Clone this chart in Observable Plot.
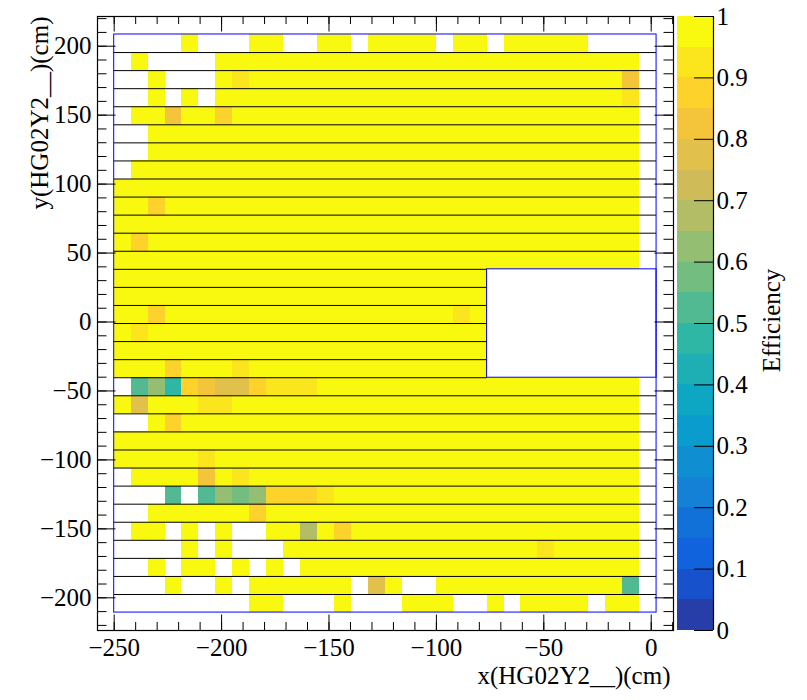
<!DOCTYPE html>
<html>
<head>
<meta charset="utf-8">
<script src="https://cdn.jsdelivr.net/npm/d3@7"></script>
<script src="https://cdn.jsdelivr.net/npm/@observablehq/plot@0.6"></script>
<style>
  html, body { margin: 0; padding: 0; background: #fff; }
  #chart { position: relative; width: 807px; height: 700px; font-family: "Liberation Serif", "Times New Roman", serif; }
  #chart svg { position: absolute; top: 0; }
</style>
</head>
<body>
<div id="chart"></div>
<script>
// ---- Histogram binning (cm) ----
const xFirstEdge = -250, xLastEdge = 2.5, nCols = 32;
const yTopEdge = 208.5, yBottomEdge = -210.7, nRows = 32;
// Beam hole: columns [22, 32) x rows [13, 19) carry no strips
const holeCols = [22, 32];
const holeRows = [13, 19];

// Occupied cells per strip row (top row first); '#' = measured, '.' = empty.
// Spaces only group the 32 columns by eight.
const rowMaps = [
  "....#... ##..##.# ###.##.# ####....",
  ".#....## ######## ######## #######.",
  "..#...## ######## ######## #######.",
  "..#.#.## ######## ######## #######.",
  ".####### ######## ######## #######.",
  "..###### ######## ######## #######.",
  "..###### ######## ######## #######.",
  ".####### ######## ######## #######.",
  "######## ######## ######## #######.",
  "######## ######## ######## #######.",
  "######## ######## ######## #######.",
  "######## ######## ######## #######.",
  "######## ######## ######## #######.",
  "######## ######## ######.. ........",
  "######## ######## ######.. ........",
  "######## ######## ######.. ........",
  "######## ######## ######.. ........",
  "######## ######## ######.. ........",
  "######## ######## ######.. ........",
  ".####### ######## ######## #######.",
  "######## ######## ######## #######.",
  "..###### ######## ######## #######.",
  "######## ######## ######## #######.",
  "######## ######## ######## #######.",
  ".####### ######## ######## #######.",
  "...#.### ######## ######## #######.",
  "..###### ######## ######## #######.",
  ".##.#.#. .####### ######## #######.",
  "....#.#. ..###### ######## #######.",
  "..#.##.# .#.##### ######## #######.",
  "...#..#. ######.# #..##### #######.",
  "........ ##...#.. .###..#. ####.##."
];

// Efficiency of a fully efficient cell
const fullEfficiency = 0.99;

// Cells below full efficiency: [row, column, efficiency]
const lowCells = [
  [2, 7, 0.91], [2, 30, 0.83],
  [3, 30, 0.93],
  [4, 3, 0.83], [4, 6, 0.88],
  [9, 2, 0.88],
  [11, 1, 0.88],
  [15, 2, 0.88], [15, 20, 0.93],
  [16, 1, 0.93],
  [18, 3, 0.88], [18, 7, 0.93],
  [19, 1, 0.53], [19, 2, 0.63], [19, 3, 0.48], [19, 4, 0.88], [19, 5, 0.83],
  [19, 6, 0.78], [19, 7, 0.78], [19, 8, 0.88], [19, 9, 0.93], [19, 10, 0.93], [19, 11, 0.93],
  [20, 1, 0.78], [20, 5, 0.93], [20, 6, 0.93],
  [21, 3, 0.88],
  [23, 5, 0.93],
  [24, 5, 0.83], [24, 7, 0.93],
  [25, 3, 0.53], [25, 5, 0.53], [25, 6, 0.63], [25, 7, 0.58], [25, 8, 0.63],
  [25, 9, 0.88], [25, 10, 0.88], [25, 11, 0.88], [25, 12, 0.93],
  [26, 8, 0.88],
  [27, 11, 0.68], [27, 13, 0.88],
  [28, 25, 0.93],
  [30, 15, 0.77], [30, 30, 0.53]
];

// Axis ticks and labels
const xMajorTicks = [-250, -200, -150, -100, -50, 0];
const yMajorTicks = [-200, -150, -100, -50, 0, 50, 100, 150, 200];
const zTicks = [0, 0.1, 0.2, 0.3, 0.4, 0.5, 0.6, 0.7, 0.8, 0.9, 1];
const xTitle = "x(HG02Y2__)(cm)";
const yTitle = "y(HG02Y2__)(cm)";
const zTitle = "Efficiency";

// ---- ROOT "bird" palette, 20 contour levels ----
const birdStops = [0, 0.125, 0.25, 0.375, 0.5, 0.625, 0.75, 0.875, 1];
const birdR = [0.2082, 0.0592, 0.0780, 0.0232, 0.1802, 0.5301, 0.8186, 0.9956, 0.9764];
const birdG = [0.1664, 0.3599, 0.5041, 0.6419, 0.7178, 0.7492, 0.7328, 0.7862, 0.9832];
const birdB = [0.5293, 0.8684, 0.8385, 0.7914, 0.6425, 0.4662, 0.3499, 0.1968, 0.0539];
function bird(t) {
  let i = 0;
  while (i < birdStops.length - 2 && t > birdStops[i + 1]) i++;
  const f = (t - birdStops[i]) / (birdStops[i + 1] - birdStops[i]);
  const c = (a) => Math.round(255 * (a[i] + f * (a[i + 1] - a[i])));
  return d3.rgb(c(birdR), c(birdG), c(birdB)).formatHex();
}
const nLevels = 20;
const levelThresholds = d3.range(1, nLevels).map((i) => i / nLevels);
const levelColors = d3.range(nLevels).map((i) => bird(Math.floor((i + 0.99) * 255 / nLevels) / 255));
const colorScale = { type: "threshold", domain: levelThresholds, range: levelColors };

// ---- Cell geometry ----
const xEdges = d3.range(nCols + 1).map((k) => xFirstEdge + k * (xLastEdge - xFirstEdge) / nCols);
const yEdges = d3.range(nRows + 1).map((k) => yTopEdge - k * (yTopEdge - yBottomEdge) / nRows);
const lowLookup = new Map(lowCells.map(([r, c, v]) => [r + ":" + c, v]));
const cells = [];
rowMaps.forEach((line, r) => {
  const row = line.replace(/ /g, "");
  for (let c = 0; c < nCols; c++) {
    if (row[c] !== "#") continue;
    const v = lowLookup.has(r + ":" + c) ? lowLookup.get(r + ":" + c) : fullEfficiency;
    cells.push({ x1: xEdges[c], x2: xEdges[c + 1], y1: yEdges[r + 1], y2: yEdges[r], value: v });
  }
});

// Strip boundaries: stop at the hole's edge inside the hole rows
const stripLines = d3.range(1, nRows).map((r) => ({
  y: yEdges[r],
  x1: xFirstEdge,
  x2: (r >= holeRows[0] && r <= holeRows[1]) ? xEdges[holeCols[0]] : xLastEdge
}));
const outline = [{ x1: xFirstEdge, x2: xLastEdge, y1: yBottomEdge, y2: yTopEdge }];
const hole = [{ x1: xEdges[holeCols[0]], x2: xEdges[holeCols[1]], y1: yEdges[holeRows[1]], y2: yEdges[holeRows[0]] }];

// ---- Frame layout ----
const W = 807, H = 700;
const mTop = 16, mBottom = 70, mLeft = 97, mRight = 134;
const innerW = W - mLeft - mRight, innerH = H - mTop - mBottom;
const xDomain = [-257.77, 10.38];
const yDomain = [-223.7, 221.54];
const fontFamily = "Liberation Serif, Times New Roman, serif";
const fs = 25;

const xMinorTicks = d3.range(-250, 11, 10).filter((d) => d >= xDomain[0] && d <= xDomain[1]);
const yMinorTicks = d3.range(-220, 221, 10).filter((d) => d >= yDomain[0] && d <= yDomain[1]);
const fmt = (d) => (d < 0 ? "\u2212" + Math.abs(d) : String(d));

const xMajLen = 15.5, xMinLen = 8, yMajLen = 18.5, yMinLen = 9.5;

const main = Plot.plot({
  width: W, height: H,
  marginTop: mTop, marginBottom: mBottom, marginLeft: mLeft, marginRight: mRight,
  x: { domain: xDomain, axis: null },
  y: { domain: yDomain, axis: null },
  color: colorScale,
  style: { fontFamily, background: "transparent", overflow: "visible" },
  marks: [
    Plot.rect(cells, { x1: "x1", x2: "x2", y1: "y1", y2: "y2", fill: "value", shapeRendering: "crispEdges" }),
    Plot.ruleY(stripLines, { y: "y", x1: "x1", x2: "x2", stroke: "#000", strokeWidth: 1 }),
    Plot.rect(outline, { x1: "x1", x2: "x2", y1: "y1", y2: "y2", fill: "none", stroke: "#0000ff", strokeWidth: 1 }),
    Plot.rect(hole, { x1: "x1", x2: "x2", y1: "y1", y2: "y2", fill: "none", stroke: "#0000ff", strokeWidth: 1 }),
    // ticks on all four sides, pointing inward
    Plot.ruleX(xMinorTicks, { x: (d) => d, insetTop: innerH - xMinLen, stroke: "#000" }),
    Plot.ruleX(xMinorTicks, { x: (d) => d, insetBottom: innerH - xMinLen, stroke: "#000" }),
    Plot.ruleX(xMajorTicks, { x: (d) => d, insetTop: innerH - xMajLen, stroke: "#000" }),
    Plot.ruleX(xMajorTicks, { x: (d) => d, insetBottom: innerH - xMajLen, stroke: "#000" }),
    Plot.ruleY(yMinorTicks, { y: (d) => d, insetRight: innerW - yMinLen, stroke: "#000" }),
    Plot.ruleY(yMinorTicks, { y: (d) => d, insetLeft: innerW - yMinLen, stroke: "#000" }),
    Plot.ruleY(yMajorTicks, { y: (d) => d, insetRight: innerW - yMajLen, stroke: "#000" }),
    Plot.ruleY(yMajorTicks, { y: (d) => d, insetLeft: innerW - yMajLen, stroke: "#000" }),
    Plot.frame({ stroke: "#000", strokeWidth: 1.2 }),
    // tick labels
    Plot.text(xMajorTicks, { x: (d) => d, frameAnchor: "bottom", dy: 8, lineAnchor: "top", text: fmt, fontSize: fs, fill: "#000" }),
    Plot.text(yMajorTicks, { y: (d) => d, frameAnchor: "left", dx: -6, textAnchor: "end", text: fmt, fontSize: fs, fill: "#000" }),
    // axis titles
    Plot.text([xTitle], { frameAnchor: "bottom-right", dx: -3, dy: 53, textAnchor: "end", lineAnchor: "bottom", fontSize: fs, fill: "#000" }),
    Plot.text([yTitle], { frameAnchor: "top-left", dx: -58, textAnchor: "end", lineAnchor: "middle", rotate: -90, fontSize: fs, fill: "#000" })
  ]
});
main.style.left = "0px";

// ---- Colour bar ----
const barLeft = 676, barW = 36, barWidthSvg = 131;
const bands = d3.range(nLevels).map((i) => ({ lo: i / nLevels, hi: (i + 1) / nLevels, mid: (i + 0.5) / nLevels }));
const zfmt = (d) => (d === 0 || d === 1 ? String(d) : d.toFixed(1));
const bar = Plot.plot({
  width: barWidthSvg, height: H,
  marginTop: mTop, marginBottom: mBottom, marginLeft: 1, marginRight: barWidthSvg - 1 - barW,
  x: { domain: [0, 1], axis: null },
  y: { domain: [0, 1], axis: null },
  color: colorScale,
  style: { fontFamily, background: "transparent", overflow: "visible" },
  marks: [
    Plot.rect(bands, { x1: 0, x2: 1, y1: "lo", y2: "hi", fill: "mid", shapeRendering: "crispEdges" }),
    Plot.ruleX([1], { stroke: "#000", strokeWidth: 1.2 }),
    Plot.ruleY(zTicks, { y: (d) => d, insetLeft: barW - 19, stroke: "#000" }),
    Plot.text(zTicks, { y: (d) => d, frameAnchor: "right", dx: 3, textAnchor: "start", text: zfmt, fontSize: fs, fill: "#000" }),
    Plot.text([zTitle], { frameAnchor: "right", dx: 58, dy: -3, textAnchor: "middle", lineAnchor: "middle", rotate: -90, fontSize: fs, fill: "#000" })
  ]
});
bar.style.left = barLeft + "px";

const chart = document.getElementById("chart");
chart.appendChild(main);
chart.appendChild(bar);
</script>
</body>
</html>
